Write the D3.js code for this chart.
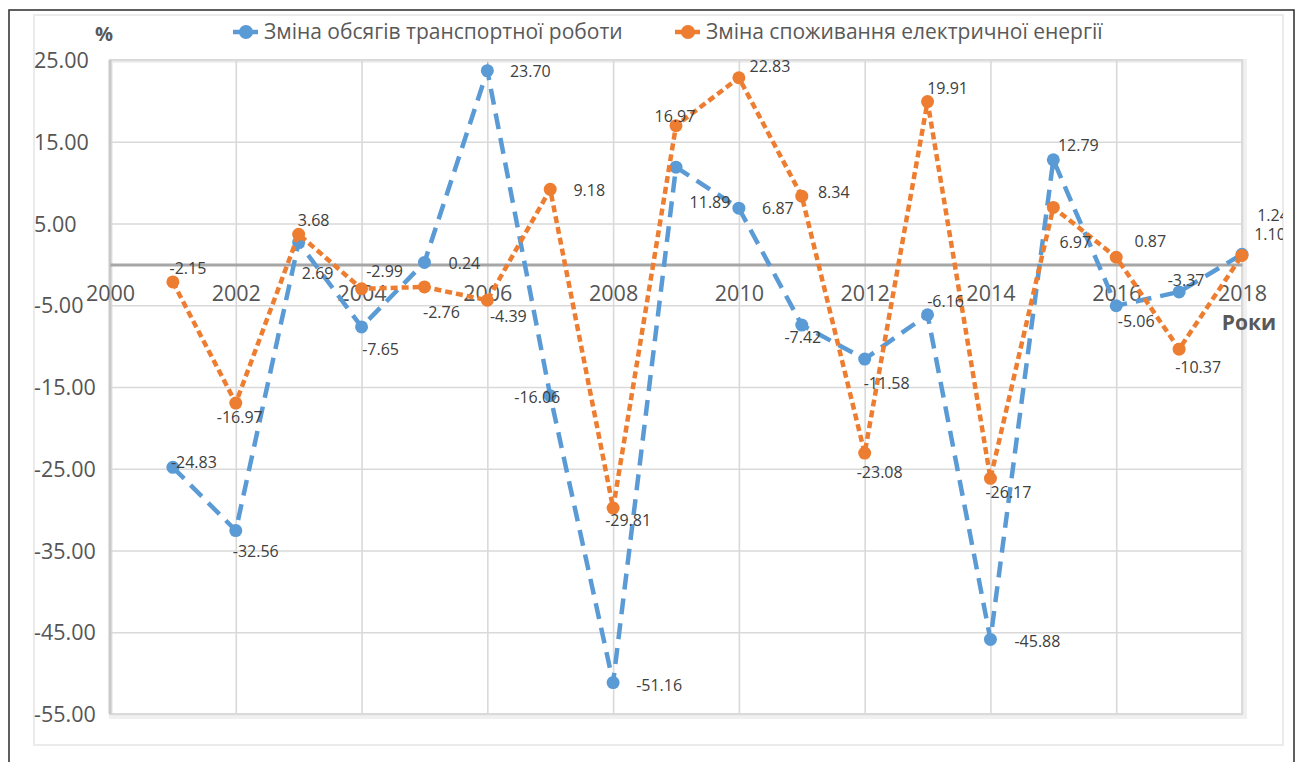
<!DOCTYPE html>
<html>
<head>
<meta charset="utf-8">
<script src="https://cdn.jsdelivr.net/npm/d3@7/dist/d3.min.js"></script>
<style>
  html, body { margin: 0; padding: 0; background: #fff; }
  svg { display: block; font-family: "Open Sans", "Noto Sans", sans-serif; }
</style>
</head>
<body>
<svg id="chart" width="1297" height="762"></svg>
<script>
// Years on the horizontal axis
const years = [2001, 2002, 2003, 2004, 2005, 2006, 2007, 2008, 2009,
               2010, 2011, 2012, 2013, 2014, 2015, 2016, 2017, 2018];

// Change of transport work volume, %
const transport = [-24.83, -32.56, 2.69, -7.65, 0.24, 23.70, -16.06, -51.16, 11.89,
                   6.87, -7.42, -11.58, -6.16, -45.88, 12.79, -5.06, -3.37, 1.24];

// Change of electric energy consumption, %
const electricity = [-2.15, -16.97, 3.68, -2.99, -2.76, -4.39, 9.18, -29.81, 16.97,
                     22.83, 8.34, -23.08, 19.91, -26.17, 6.97, 0.87, -10.37, 1.10];

const seriesNames = ["Зміна обсягів транспортної роботи", "Зміна споживання електричної енергії"];

const xTicks = [2000, 2002, 2004, 2006, 2008, 2010, 2012, 2014, 2016, 2018];
const yTicks = [25, 15, 5, -5, -15, -25, -35, -45, -55];

// Data label offsets from each marker (label centre), per series
const transportLabelOffsets = [
  [21, -5], [20, 21], [19, 31], [19, 22], [40, 1], [43, 1], [-13, 2], [46, 3], [34, 35],
  [39, 0], [1, 12], [22, 24], [18, -13], [47, 2], [25, -14], [20, 16], [7, -12], [31, -39]
];
const electricityLabelOffsets = [
  [15, -14], [4, 14], [15, -14], [23, -17], [17, 25], [21, 16], [39, 1], [15, 12], [-1, -9],
  [31, -11], [32, -4], [15, 19], [20, -13], [18, 14], [22, 35], [34, -16], [19, 18], [28, -21]
];

const fmt = d3.formatLocale({ decimal: ".", thousands: ",", grouping: [3], currency: ["", ""], minus: "-" }).format(".2f");

const svg = d3.select("#chart");

const plot = { left: 110, right: 1242, top: 60, bottom: 714 };
const x = d3.scaleLinear().domain([2000, 2018]).range([plot.left, plot.right]);
const y = d3.scaleLinear().domain([-55, 25]).range([plot.bottom, plot.top]);

const BLUE = "#5b9bd5";
const ORANGE = "#ed7d31";
const TEXT = "#595959";

// Outer frame and chart area
svg.append("rect")
  .attr("x", 9).attr("y", 10).attr("width", 1285).attr("height", 770)
  .attr("fill", "#fff").attr("stroke", "#2b2b2b").attr("stroke-width", 1.5);

svg.append("rect")
  .attr("x", 34).attr("y", 15).attr("width", 1249).attr("height", 730)
  .attr("fill", "#fff").attr("stroke", "#ebebeb").attr("stroke-width", 2);

svg.append("defs").append("clipPath").attr("id", "area-clip")
  .append("rect").attr("x", 34).attr("y", 15).attr("width", 1249).attr("height", 730);

const g = svg.append("g").attr("clip-path", "url(#area-clip)");

// Soft shadow under plot frame
g.append("rect")
  .attr("x", plot.left + 1).attr("y", plot.top + 1)
  .attr("width", plot.right - plot.left + 2).attr("height", plot.bottom - plot.top + 2)
  .attr("fill", "none").attr("stroke", "#f0f0f0").attr("stroke-width", 4);

// Horizontal gridlines via the y axis
const yAxis = g.append("g")
  .attr("transform", `translate(${plot.left},0)`)
  .call(d3.axisLeft(y).tickValues(yTicks).tickFormat(fmt).tickSize(-(plot.right - plot.left)).tickPadding(0));
yAxis.select(".domain").remove();
yAxis.selectAll(".tick line").attr("stroke", "#d9d9d9").attr("stroke-width", 1.6);
yAxis.selectAll(".tick text")
  .attr("x", 34 - plot.left)
  .attr("text-anchor", "start")
  .attr("dy", "0.35em")
  .attr("fill", "#555")
  .style("font-size", "21.5px")
  .style("font-family", "'Open Sans', sans-serif");

// Vertical gridlines via the x axis
const xGrid = g.append("g")
  .attr("transform", `translate(0,${plot.bottom})`)
  .call(d3.axisBottom(x).tickValues(xTicks).tickFormat("").tickSize(-(plot.bottom - plot.top)));
xGrid.select(".domain").remove();
xGrid.selectAll(".tick line").attr("stroke", "#d9d9d9").attr("stroke-width", 1.6);

// Plot frame
g.append("rect")
  .attr("x", plot.left).attr("y", plot.top)
  .attr("width", plot.right - plot.left).attr("height", plot.bottom - plot.top)
  .attr("fill", "none").attr("stroke", "#dadada").attr("stroke-width", 2);
g.append("line")
  .attr("x1", plot.left).attr("x2", plot.left)
  .attr("y1", plot.top).attr("y2", plot.bottom)
  .attr("stroke", "#c9c9c9").attr("stroke-width", 3);

// Zero line with year labels underneath
const xAxis = g.append("g")
  .attr("transform", `translate(0,${y(0)})`)
  .call(d3.axisBottom(x).tickValues(xTicks).tickFormat(d3.format("d")).tickSize(0).tickPadding(0));
xAxis.select(".domain").attr("stroke", "#a6a6a6").attr("stroke-width", 3);
xAxis.selectAll(".tick text")
  .attr("y", 29)
  .attr("dy", "0.35em")
  .attr("fill", "#555")
  .style("font-size", "21.5px")
  .style("font-family", "'Open Sans', sans-serif");

// Axis captions
g.append("text").attr("x", 104).attr("y", 34).attr("dy", "0.35em")
  .attr("text-anchor", "middle").attr("fill", TEXT)
  .style("font-size", "20px").style("font-weight", "bold").text("%");
g.append("text").attr("x", 1249).attr("y", 323).attr("dy", "0.35em")
  .attr("text-anchor", "middle").attr("fill", TEXT)
  .style("font-size", "21px").style("font-weight", "bold").text("Роки");

// Series
const series = [
  { name: seriesNames[0], values: transport, color: BLUE, dash: "16,9", offsets: transportLabelOffsets },
  { name: seriesNames[1], values: electricity, color: ORANGE, dash: "7,4", offsets: electricityLabelOffsets }
];

const line = d3.line().x((d, i) => x(years[i])).y(d => y(d));

series.forEach(s => {
  g.append("path")
    .datum(s.values)
    .attr("d", line)
    .attr("fill", "none")
    .attr("stroke", s.color)
    .attr("stroke-width", 4.5)
    .attr("stroke-dasharray", s.dash);
  g.selectAll(null)
    .data(s.values)
    .join("circle")
    .attr("cx", (d, i) => x(years[i]))
    .attr("cy", d => y(d))
    .attr("r", 6.5)
    .attr("fill", s.color);
});

// Data labels
series.forEach(s => {
  g.selectAll(null)
    .data(s.values)
    .join("text")
    .attr("x", (d, i) => x(years[i]) + s.offsets[i][0])
    .attr("y", (d, i) => y(d) + s.offsets[i][1])
    .attr("dy", "0.35em")
    .attr("text-anchor", "middle")
    .attr("fill", "#404040")
    .style("font-size", "16px")
    .text(d => fmt(d));
});

// Legend
const legendItems = [
  { name: seriesNames[0], color: BLUE, x: 246 },
  { name: seriesNames[1], color: ORANGE, x: 688 }
];
const legend = g.append("g").attr("transform", "translate(0,32)");
legendItems.forEach(it => {
  legend.append("line")
    .attr("x1", it.x - 13).attr("x2", it.x + 12)
    .attr("stroke", it.color).attr("stroke-width", 4.5);
  legend.append("circle").attr("cx", it.x).attr("r", 7).attr("fill", it.color);
  legend.append("text")
    .attr("x", it.x + 18).attr("dy", "0.35em")
    .attr("fill", TEXT)
    .style("font-size", "21px")
    .text(it.name);
});
</script>
</body>
</html>
